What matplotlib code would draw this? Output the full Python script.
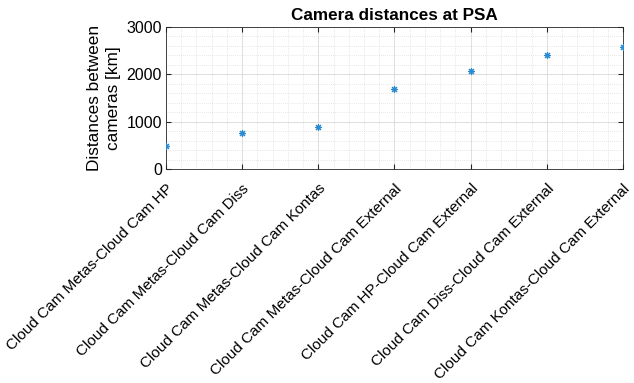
import numpy as np
import matplotlib.pyplot as plt
from matplotlib.ticker import MultipleLocator

plt.rcParams['font.family'] = ['Liberation Sans', 'DejaVu Sans']

pairs = ['Cloud Cam Metas-Cloud Cam HP',
         'Cloud Cam Metas-Cloud Cam Diss',
         'Cloud Cam Metas-Cloud Cam Kontas',
         'Cloud Cam Metas-Cloud Cam External',
         'Cloud Cam HP-Cloud Cam External',
         'Cloud Cam Diss-Cloud Cam External',
         'Cloud Cam Kontas-Cloud Cam External']
distances = [490, 765, 880, 1690, 2060, 2415, 2575]

x = np.arange(1, len(pairs) + 1)

fig = plt.figure(figsize=(6.34, 3.83), dpi=100)
ax = fig.add_axes([166/634, 1 - 169/383, (623-166)/634, (169-27)/383])

# MATLAB style asterisk
ax.plot(x, distances, linestyle='none', marker=(8, 2, 0), color='#2a8ad0',
        markersize=5, markeredgewidth=0.8, zorder=3)

ax.set_xlim(1, 7)
ax.set_ylim(0, 3000)
ax.set_xticks(x)
ax.set_xticklabels(pairs, rotation=45, ha='right', rotation_mode='anchor', fontsize=11)
ax.set_yticks([0, 1000, 2000, 3000])
ax.tick_params(axis='y', labelsize=11.5, pad=3)
ax.tick_params(axis='x', pad=9)
ax.xaxis.set_minor_locator(MultipleLocator(0.2))
ax.yaxis.set_minor_locator(MultipleLocator(200))
ax.grid(which='major', color='#d9d9d9', linewidth=0.6)
ax.grid(which='minor', color='#d0d0d0', linestyle=(0, (1, 2)), linewidth=0.5)
ax.set_axisbelow(True)
ax.tick_params(which='both', direction='in', color='#262626', top=True, right=True)
ax.tick_params(which='minor', length=0)
for s in ax.spines.values():
    s.set_color('#262626')
    s.set_linewidth(0.6)

ax.set_ylabel('Distances between\ncameras [km]', fontsize=12.4, linespacing=1.3, labelpad=4)
ax.set_title('Camera distances at PSA', fontsize=12.3, fontweight='bold', pad=5)

plt.savefig('out.png', dpi=100)
